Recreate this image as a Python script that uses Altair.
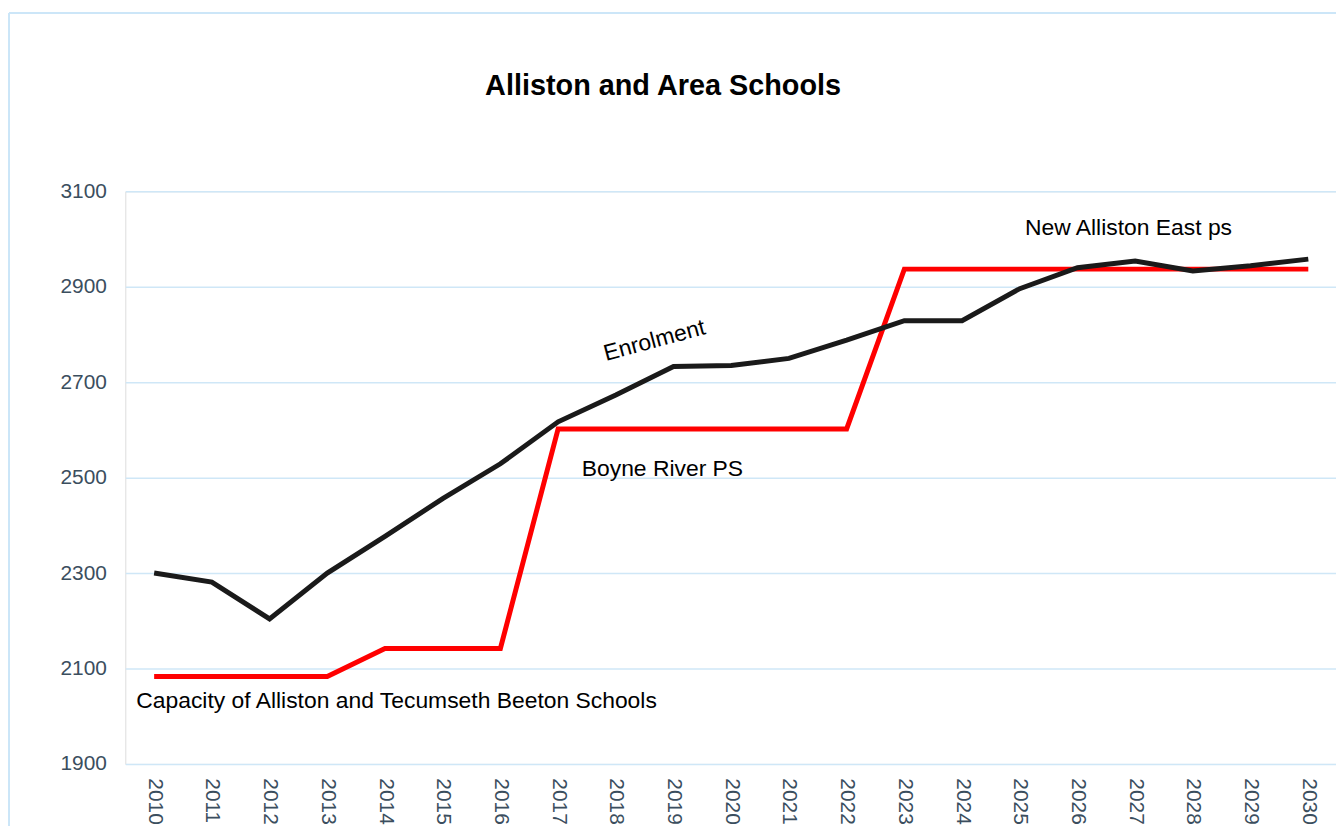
import altair as alt
import pandas as pd

years = list(range(2010, 2031))
enrolment = [2300, 2281, 2204, 2300, 2377, 2456, 2529, 2617, 2673, 2733, 2735,
             2750, 2788, 2829, 2829, 2896, 2940, 2954, 2933, 2944, 2958]
capacity = [2083, 2083, 2083, 2083, 2142, 2142, 2142, 2602, 2602, 2602, 2602,
            2602, 2602, 2937, 2937, 2937, 2937, 2937, 2937, 2937, 2937]

note_text = ["Enrolment", "Boyne River PS", "New Alliston East ps",
             "Capacity of Alliston and Tecumseth Beeton Schools"]
note_year = [2018.67, 2017.41, 2025.09, 2009.69]
note_value = [2787, 2519, 3023, 2031]
note_angle = [345, 0, 0, 0]
note_align = ["center", "left", "left", "left"]

y_ticks = [1900, 2100, 2300, 2500, 2700, 2900, 3100]

df = pd.DataFrame({"year": years, "enrolment": enrolment, "capacity": capacity})
notes = pd.DataFrame({"text": note_text, "year": note_year, "value": note_value})

FONT = "Liberation Sans"
xscale = alt.Scale(domain=[2009.5, 2030.48], nice=False, zero=False)
yscale = alt.Scale(domain=[1900, 3100], nice=False, zero=False)

xaxis = alt.Axis(values=years, format="d", title=None, grid=False, domain=False,
                 ticks=False, labelAngle=90, labelAlign="left", labelBaseline="middle",
                 labelPadding=14, labelFontSize=21, labelColor="#3b4e5e",
                 labelFont=FONT, labelFlush=False, labelOverlap=False)
yaxis = alt.Axis(values=y_ticks, format="d", title=None, grid=True, gridColor="#cfe7f7",
                 gridWidth=1.5, domain=False, ticks=False, labelPadding=19,
                 labelFontSize=21, labelColor="#3b4e5e", labelFont=FONT)

base = alt.Chart(df)

cap_line = base.mark_line(color="#ff0000", strokeWidth=5, strokeJoin="miter").encode(
    x=alt.X("year:Q", scale=xscale, axis=xaxis),
    y=alt.Y("capacity:Q", scale=yscale, axis=yaxis),
)
enr_line = base.mark_line(color="#1a1a1a", strokeWidth=5, strokeJoin="miter").encode(
    x=alt.X("year:Q", scale=xscale),
    y=alt.Y("enrolment:Q", scale=yscale),
)

note_layers = []
for i in range(len(note_text)):
    note_layers.append(
        alt.Chart(notes.iloc[[i]]).mark_text(
            font=FONT, fontSize=23, color="#000000", align=note_align[i],
            baseline="middle", angle=note_angle[i]
        ).encode(
            x=alt.X("year:Q", scale=xscale),
            y=alt.Y("value:Q", scale=yscale),
            text="text:N",
        )
    )

frame_top = alt.Chart(df).mark_rule(color="#cce6f8", strokeWidth=2).encode(
    x=alt.value(-117), x2=alt.value(1300), y=alt.value(-179.5)
)
frame_left = alt.Chart(df).mark_rule(color="#cce6f8", strokeWidth=2).encode(
    x=alt.value(-117), y=alt.value(-179.5), y2=alt.value(700)
)

chart = alt.layer(frame_top, frame_left, cap_line, enr_line, *note_layers).properties(
    width=1218,
    height=576,
    title=alt.TitleParams(
        "Alliston and Area Schools", font=FONT, fontSize=29, fontWeight="bold",
        color="#000000", anchor="middle", frame="group", dx=-68, offset=-113,
        baseline="alphabetic",
    ),
    autosize=alt.AutoSizeParams(type="none"),
    padding={"left": 118, "top": 182, "right": 0, "bottom": 60},
).configure_view(stroke=None).configure(background="#ffffff")

chart.save("out.html", embed_options={"renderer": "svg", "actions": False})
